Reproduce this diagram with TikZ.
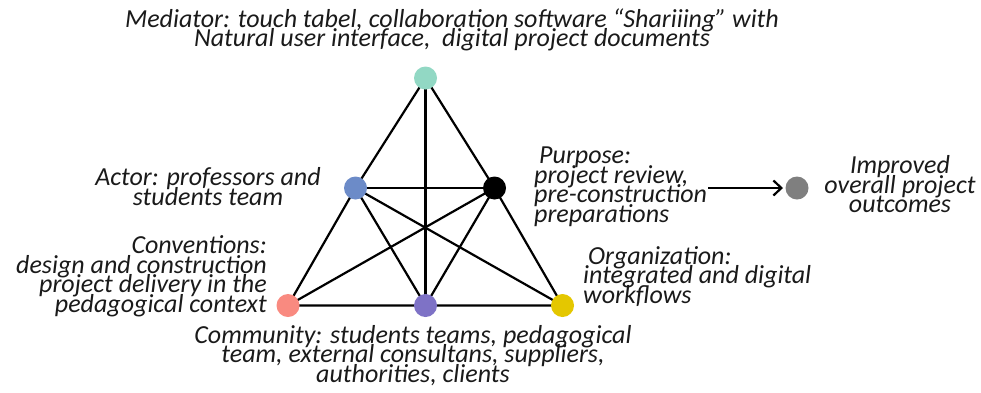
\documentclass[tikz,border=0pt]{standalone}
\usepackage{fontspec}
\setmainfont{Carlito}
\usetikzlibrary{arrows.meta,backgrounds}
\definecolor{cmint}{HTML}{92D8C4}
\definecolor{cblue}{HTML}{6C8BC8}
\definecolor{csalmon}{HTML}{F98A80}
\definecolor{cpurple}{HTML}{7E72C6}
\definecolor{cyellow}{HTML}{E4C700}
\definecolor{cgray}{HTML}{7F7F7F}
\definecolor{ctext}{HTML}{1A1A1A}
\newcommand\lblfont{\fontsize{26}{19.5}\selectfont\lineskiplimit=-50pt\relax\lineskip=0pt\relax\itshape}
\begin{document}
\begin{tikzpicture}[x=1pt,y=-1pt,
  dot/.style={circle,fill=#1,draw=none,minimum size=23pt,inner sep=0pt},
  edge/.style={draw=black,line width=2.2pt},
  lbl/.style={inner sep=0pt,text=ctext,font=\lblfont},
  arr/.style={line width=2.2pt,-{Straight Barb[length=8pt,width=15pt]}}]
\useasboundingbox (0,0) rectangle (981,392);
% dots
\node[dot=cmint] (med) at (425.5,78) {};
\node[dot=cblue] (act) at (355.5,188) {};
\node[dot=black] (pur) at (494.5,188) {};
\node[dot=csalmon] (con) at (288,305.5) {};
\node[dot=cpurple] (com) at (425.5,305.5) {};
\node[dot=cyellow] (org) at (562.5,305.5) {};
\node[dot=cgray] (imp) at (797,188) {};
% edges
\begin{pgfonlayer}{background}
\draw[edge] (med.center) -- (act.center) -- (con.center) -- (com.center) -- (org.center) -- (pur.center) -- (med.center);
\draw[edge] (med.center) -- (com.center);
\draw[edge] (act.center) -- (pur.center);
\draw[edge] (act.center) -- (com.center);
\draw[edge] (act.center) -- (org.center);
\draw[edge] (pur.center) -- (con.center);
\draw[edge] (pur.center) -- (com.center);
\end{pgfonlayer}
% arrow
\coordinate (arrs) at (708,188);
\draw[arr] (arrs) -- (imp.west -| 783,0);
% labels (anchor = baseline of last line)
\node[lbl,align=center,anchor=base] (medt) at (452,46.5) {Mediator: touch tabel, collaboration software “Shariiing” with\\Natural user interface, \ digital project documents};
\node[lbl,align=center,anchor=base] (actt) at (208,205) {Actor: professors and\\students team};
\node[lbl,align=right,anchor=base east] (cont) at (267,312) {Conventions:\\design and construction\\project delivery in the\\pedagogical context};
\node[lbl,align=left,anchor=base west] (purt) at (534,222) {\hspace*{5pt}Purpose:\\project review,\\pre-construction\\preparations};
\node[lbl,align=center,anchor=base] (impt) at (900,212.5) {Improved\\overall project\\outcomes};
\node[lbl,align=left,anchor=base west] (orgt) at (583,303) {\hspace*{5pt}Organization:\\integrated and digital\\workflows};
\node[lbl,align=center,anchor=base] (comt) at (413,382) {Community: students teams, pedagogical\\team, external consultans, suppliers,\\authorities, clients};
\end{tikzpicture}
\end{document}
